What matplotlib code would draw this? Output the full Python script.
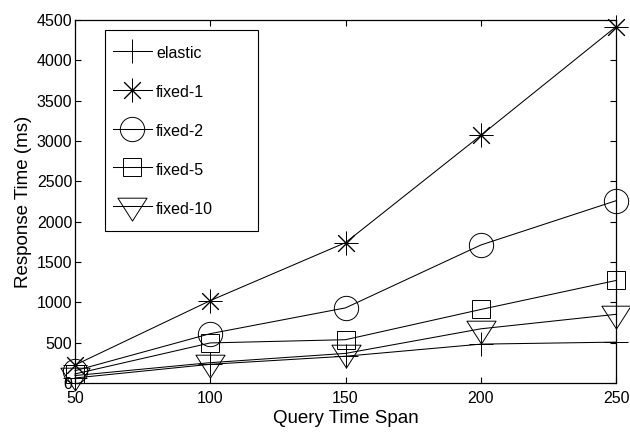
import numpy as np
import matplotlib.pyplot as plt
from matplotlib.path import Path
from matplotlib.patches import Rectangle

plt.rcParams['font.family'] = ['Liberation Sans', 'DejaVu Sans']

# tempo de resposta (ms) por janela de consulta
span = [50, 100, 150, 200, 250]
elastic = [60, 230, 330, 480, 505]
fixed_1 = [220, 1020, 1740, 3070, 4420]
fixed_2 = [150, 610, 930, 1710, 2260]
fixed_5 = [110, 495, 535, 910, 1270]
fixed_10 = [90, 250, 365, 670, 850]

# triangulo mais largo, estilo matlab
tri = Path([(-1, 0.57), (1, 0.57), (0, -1.0), (-1, 0.57)],
           [Path.MOVETO, Path.LINETO, Path.LINETO, Path.CLOSEPOLY])

series = [
    (elastic, '+', 17, 'elastic'),
    (fixed_1, (8, 2, 0), 17, 'fixed-1'),
    (fixed_2, 'o', 17.5, 'fixed-2'),
    (fixed_5, 's', 13, 'fixed-5'),
    (fixed_10, tri, 21, 'fixed-10'),
]

fig = plt.figure(figsize=(6.3, 4.38), dpi=100)
ax = fig.add_axes([0.119, 0.126, 0.859, 0.828])

for vals, mk, ms, lab in series:
    ax.plot(span, vals, color='black', lw=0.75, marker=mk, ms=ms,
            mfc='none', mec='black', mew=0.7, label=lab, clip_on=False)

ax.set_xlim(50, 250)
ax.set_ylim(0, 4500)
ax.set_xticks(span)
ax.set_yticks(np.arange(0, 4501, 500))
ax.tick_params(direction='in', top=True, right=True, length=4.5, width=0.8,
               labelsize=11.5)
ax.tick_params(axis='x', pad=6)
ax.tick_params(axis='y', pad=2)
for s in ax.spines.values():
    s.set_linewidth(0.9)

ax.set_xlabel('Query Time Span', fontsize=13.5, labelpad=3)
ax.set_ylabel('Response Time (ms)', fontsize=13.5, labelpad=3)

# caixa da legenda desenhada a parte
ax.add_patch(Rectangle((0.0555, 0.419), 0.2825, 0.553, transform=ax.transAxes,
                       fill=True, facecolor='white', edgecolor='black', lw=0.8,
                       zorder=4))
leg = ax.legend(loc='upper left', bbox_to_anchor=(0.070, 0.937), borderaxespad=0,
                frameon=False, fontsize=11.5, handlelength=2.45,
                handleheight=1.6, labelspacing=1.15, handletextpad=0.25,
                borderpad=0)
leg.set_zorder(5)

plt.savefig('out.png', dpi=100)
